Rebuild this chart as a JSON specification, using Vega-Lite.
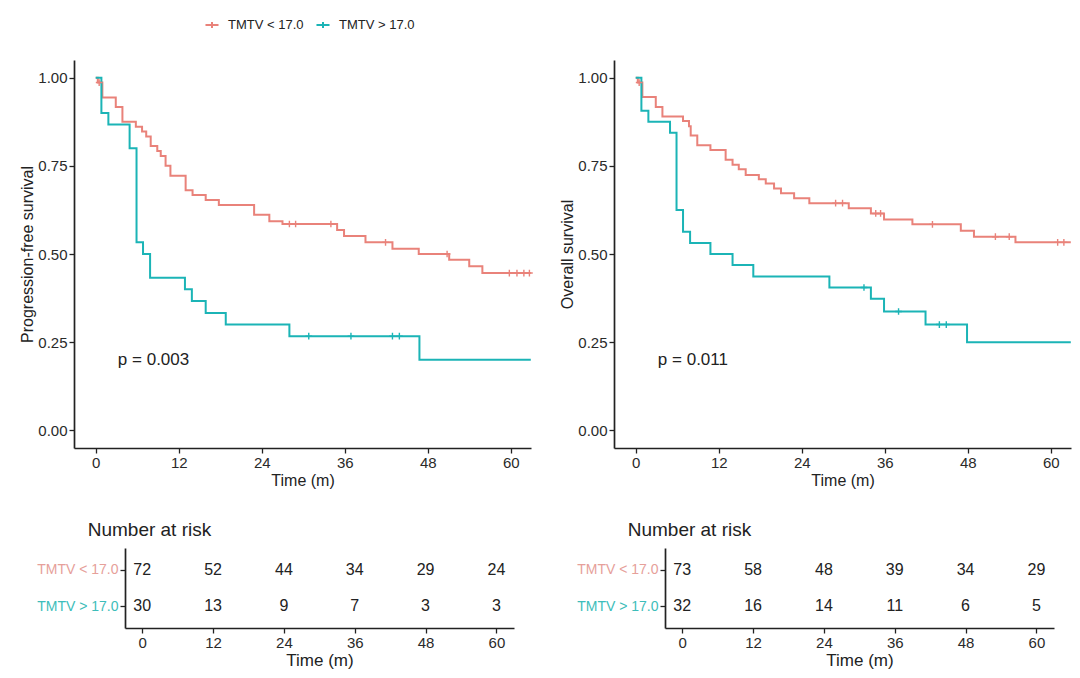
{
  "$schema": "https://vega.github.io/schema/vega-lite/v6.json",
  "background": "white",
  "padding": {"left": 19, "top": 17, "right": 8, "bottom": 8},
  "datasets": {
    "pfs": [
      {"group": "TMTV < 17.0", "time": 0, "surv": 1.0},
      {"group": "TMTV < 17.0", "time": 0.3, "surv": 0.986},
      {"group": "TMTV < 17.0", "time": 0.96, "surv": 0.944},
      {"group": "TMTV < 17.0", "time": 2.9, "surv": 0.917},
      {"group": "TMTV < 17.0", "time": 3.86, "surv": 0.875},
      {"group": "TMTV < 17.0", "time": 5.8, "surv": 0.861},
      {"group": "TMTV < 17.0", "time": 6.7, "surv": 0.847},
      {"group": "TMTV < 17.0", "time": 7.3, "surv": 0.833},
      {"group": "TMTV < 17.0", "time": 7.95, "surv": 0.806},
      {"group": "TMTV < 17.0", "time": 8.9, "surv": 0.792},
      {"group": "TMTV < 17.0", "time": 9.4, "surv": 0.778},
      {"group": "TMTV < 17.0", "time": 10.1, "surv": 0.75},
      {"group": "TMTV < 17.0", "time": 10.8, "surv": 0.722},
      {"group": "TMTV < 17.0", "time": 13.0, "surv": 0.681},
      {"group": "TMTV < 17.0", "time": 14.0, "surv": 0.667},
      {"group": "TMTV < 17.0", "time": 15.9, "surv": 0.653},
      {"group": "TMTV < 17.0", "time": 17.8, "surv": 0.639},
      {"group": "TMTV < 17.0", "time": 22.9, "surv": 0.611},
      {"group": "TMTV < 17.0", "time": 25.1, "surv": 0.593},
      {"group": "TMTV < 17.0", "time": 27.0, "surv": 0.585},
      {"group": "TMTV < 17.0", "time": 34.9, "surv": 0.568},
      {"group": "TMTV < 17.0", "time": 35.9, "surv": 0.551},
      {"group": "TMTV < 17.0", "time": 39.0, "surv": 0.533},
      {"group": "TMTV < 17.0", "time": 42.9, "surv": 0.515},
      {"group": "TMTV < 17.0", "time": 46.7, "surv": 0.5},
      {"group": "TMTV < 17.0", "time": 51.1, "surv": 0.484},
      {"group": "TMTV < 17.0", "time": 54.0, "surv": 0.465},
      {"group": "TMTV < 17.0", "time": 55.9, "surv": 0.446},
      {"group": "TMTV < 17.0", "time": 62.9, "surv": 0.446},
      {"group": "TMTV > 17.0", "time": 0, "surv": 1.0},
      {"group": "TMTV > 17.0", "time": 0.82, "surv": 0.9},
      {"group": "TMTV > 17.0", "time": 1.83, "surv": 0.867},
      {"group": "TMTV > 17.0", "time": 4.9, "surv": 0.8},
      {"group": "TMTV > 17.0", "time": 5.9, "surv": 0.533},
      {"group": "TMTV > 17.0", "time": 6.84, "surv": 0.5},
      {"group": "TMTV > 17.0", "time": 7.86, "surv": 0.433},
      {"group": "TMTV > 17.0", "time": 12.9, "surv": 0.4},
      {"group": "TMTV > 17.0", "time": 13.9, "surv": 0.367},
      {"group": "TMTV > 17.0", "time": 15.9, "surv": 0.333},
      {"group": "TMTV > 17.0", "time": 18.8, "surv": 0.3},
      {"group": "TMTV > 17.0", "time": 28.0, "surv": 0.267},
      {"group": "TMTV > 17.0", "time": 46.8, "surv": 0.2},
      {"group": "TMTV > 17.0", "time": 62.9, "surv": 0.2}
    ],
    "pfs_cens": [
      {"group": "TMTV < 17.0", "time": 0.5, "surv": 0.986},
      {"group": "TMTV < 17.0", "time": 28.0, "surv": 0.585},
      {"group": "TMTV < 17.0", "time": 28.9, "surv": 0.585},
      {"group": "TMTV < 17.0", "time": 34.0, "surv": 0.585},
      {"group": "TMTV < 17.0", "time": 41.9, "surv": 0.533},
      {"group": "TMTV < 17.0", "time": 50.8, "surv": 0.5},
      {"group": "TMTV < 17.0", "time": 59.8, "surv": 0.446},
      {"group": "TMTV < 17.0", "time": 60.9, "surv": 0.446},
      {"group": "TMTV < 17.0", "time": 61.9, "surv": 0.446},
      {"group": "TMTV < 17.0", "time": 62.7, "surv": 0.446},
      {"group": "TMTV > 17.0", "time": 30.8, "surv": 0.267},
      {"group": "TMTV > 17.0", "time": 36.9, "surv": 0.267},
      {"group": "TMTV > 17.0", "time": 42.9, "surv": 0.267},
      {"group": "TMTV > 17.0", "time": 43.9, "surv": 0.267}
    ],
    "os": [
      {"group": "TMTV < 17.0", "time": 0, "surv": 1.0},
      {"group": "TMTV < 17.0", "time": 0.3, "surv": 0.986},
      {"group": "TMTV < 17.0", "time": 0.96, "surv": 0.945},
      {"group": "TMTV < 17.0", "time": 2.9, "surv": 0.917},
      {"group": "TMTV < 17.0", "time": 3.86, "surv": 0.89},
      {"group": "TMTV < 17.0", "time": 6.84, "surv": 0.877},
      {"group": "TMTV < 17.0", "time": 7.7, "surv": 0.862},
      {"group": "TMTV < 17.0", "time": 7.95, "surv": 0.836},
      {"group": "TMTV < 17.0", "time": 8.9, "surv": 0.808},
      {"group": "TMTV < 17.0", "time": 10.8, "surv": 0.795},
      {"group": "TMTV < 17.0", "time": 13.0, "surv": 0.767},
      {"group": "TMTV < 17.0", "time": 14.0, "surv": 0.753},
      {"group": "TMTV < 17.0", "time": 14.9, "surv": 0.74},
      {"group": "TMTV < 17.0", "time": 15.9, "surv": 0.724},
      {"group": "TMTV < 17.0", "time": 17.8, "surv": 0.712},
      {"group": "TMTV < 17.0", "time": 18.8, "surv": 0.7},
      {"group": "TMTV < 17.0", "time": 20.0, "surv": 0.686},
      {"group": "TMTV < 17.0", "time": 21.0, "surv": 0.672},
      {"group": "TMTV < 17.0", "time": 22.9, "surv": 0.658},
      {"group": "TMTV < 17.0", "time": 25.1, "surv": 0.644},
      {"group": "TMTV < 17.0", "time": 30.8, "surv": 0.63},
      {"group": "TMTV < 17.0", "time": 34.0, "surv": 0.615},
      {"group": "TMTV < 17.0", "time": 35.9, "surv": 0.598},
      {"group": "TMTV < 17.0", "time": 40.0, "surv": 0.584},
      {"group": "TMTV < 17.0", "time": 47.0, "surv": 0.566},
      {"group": "TMTV < 17.0", "time": 48.9, "surv": 0.549},
      {"group": "TMTV < 17.0", "time": 54.9, "surv": 0.533},
      {"group": "TMTV < 17.0", "time": 62.9, "surv": 0.533},
      {"group": "TMTV > 17.0", "time": 0, "surv": 1.0},
      {"group": "TMTV > 17.0", "time": 0.82, "surv": 0.906},
      {"group": "TMTV > 17.0", "time": 1.83, "surv": 0.875},
      {"group": "TMTV > 17.0", "time": 4.96, "surv": 0.844},
      {"group": "TMTV > 17.0", "time": 5.9, "surv": 0.625},
      {"group": "TMTV > 17.0", "time": 6.84, "surv": 0.563},
      {"group": "TMTV > 17.0", "time": 7.86, "surv": 0.531},
      {"group": "TMTV > 17.0", "time": 10.8, "surv": 0.5},
      {"group": "TMTV > 17.0", "time": 14.0, "surv": 0.469},
      {"group": "TMTV > 17.0", "time": 17.0, "surv": 0.436},
      {"group": "TMTV > 17.0", "time": 28.0, "surv": 0.405},
      {"group": "TMTV > 17.0", "time": 34.0, "surv": 0.373},
      {"group": "TMTV > 17.0", "time": 35.9, "surv": 0.337},
      {"group": "TMTV > 17.0", "time": 41.9, "surv": 0.3},
      {"group": "TMTV > 17.0", "time": 47.9, "surv": 0.25},
      {"group": "TMTV > 17.0", "time": 62.9, "surv": 0.25}
    ],
    "os_cens": [
      {"group": "TMTV < 17.0", "time": 0.5, "surv": 0.986},
      {"group": "TMTV < 17.0", "time": 28.9, "surv": 0.644},
      {"group": "TMTV < 17.0", "time": 29.9, "surv": 0.644},
      {"group": "TMTV < 17.0", "time": 34.7, "surv": 0.615},
      {"group": "TMTV < 17.0", "time": 35.4, "surv": 0.615},
      {"group": "TMTV < 17.0", "time": 42.9, "surv": 0.584},
      {"group": "TMTV < 17.0", "time": 52.0, "surv": 0.549},
      {"group": "TMTV < 17.0", "time": 54.0, "surv": 0.549},
      {"group": "TMTV < 17.0", "time": 61.0, "surv": 0.533},
      {"group": "TMTV < 17.0", "time": 61.9, "surv": 0.533},
      {"group": "TMTV > 17.0", "time": 33.0, "surv": 0.405},
      {"group": "TMTV > 17.0", "time": 38.0, "surv": 0.337},
      {"group": "TMTV > 17.0", "time": 43.9, "surv": 0.3},
      {"group": "TMTV > 17.0", "time": 44.9, "surv": 0.3}
    ],
    "risk_pfs": [
      {"group": "TMTV < 17.0", "time": 0, "n": 72},
      {"group": "TMTV < 17.0", "time": 12, "n": 52},
      {"group": "TMTV < 17.0", "time": 24, "n": 44},
      {"group": "TMTV < 17.0", "time": 36, "n": 34},
      {"group": "TMTV < 17.0", "time": 48, "n": 29},
      {"group": "TMTV < 17.0", "time": 60, "n": 24},
      {"group": "TMTV > 17.0", "time": 0, "n": 30},
      {"group": "TMTV > 17.0", "time": 12, "n": 13},
      {"group": "TMTV > 17.0", "time": 24, "n": 9},
      {"group": "TMTV > 17.0", "time": 36, "n": 7},
      {"group": "TMTV > 17.0", "time": 48, "n": 3},
      {"group": "TMTV > 17.0", "time": 60, "n": 3}
    ],
    "risk_os": [
      {"group": "TMTV < 17.0", "time": 0, "n": 73},
      {"group": "TMTV < 17.0", "time": 12, "n": 58},
      {"group": "TMTV < 17.0", "time": 24, "n": 48},
      {"group": "TMTV < 17.0", "time": 36, "n": 39},
      {"group": "TMTV < 17.0", "time": 48, "n": 34},
      {"group": "TMTV < 17.0", "time": 60, "n": 29},
      {"group": "TMTV > 17.0", "time": 0, "n": 32},
      {"group": "TMTV > 17.0", "time": 12, "n": 16},
      {"group": "TMTV > 17.0", "time": 24, "n": 14},
      {"group": "TMTV > 17.0", "time": 36, "n": 11},
      {"group": "TMTV > 17.0", "time": 48, "n": 6},
      {"group": "TMTV > 17.0", "time": 60, "n": 5}
    ]
  },
  "concat": [
    {
      "width": 457, "height": 388,
      "layer": [
        {
          "data": {"name": "pfs"},
          "mark": {"type": "line", "interpolate": "step-after", "strokeWidth": 2},
          "encoding": {
            "x": {"field": "time", "type": "quantitative", "scale": {"domain": [-3.14, 62.93], "nice": false, "zero": false}, "axis": {"values": [0, 12, 24, 36, 48, 60], "title": "Time (m)"}},
            "y": {"field": "surv", "type": "quantitative", "scale": {"domain": [-0.05, 1.05], "nice": false, "zero": false}, "axis": {"values": [0, 0.25, 0.5, 0.75, 1], "format": ".2f", "title": "Progression-free survival"}},
            "color": {"field": "group", "type": "nominal", "scale": {"domain": ["TMTV < 17.0", "TMTV > 17.0"], "range": ["#E9827A", "#1BB4B6"]}, "legend": {"orient": "none", "legendX": 130, "legendY": -43}}
          }
        },
        {
          "data": {"name": "pfs_cens"},
          "mark": {"type": "point", "shape": "M-1,0L1,0M0,-1L0,1", "filled": false, "size": 45, "strokeWidth": 1.4, "opacity": 1},
          "encoding": {
            "x": {"field": "time", "type": "quantitative"},
            "y": {"field": "surv", "type": "quantitative"},
            "color": {"field": "group", "type": "nominal"}
          }
        },
        {
          "data": {"values": [{"label": "p = 0.003", "time": 3.2, "surv": 0.2}]},
          "mark": {"type": "text", "align": "left", "baseline": "middle", "fontSize": 17, "color": "#222"},
          "encoding": {
            "x": {"field": "time", "type": "quantitative"},
            "y": {"field": "surv", "type": "quantitative"},
            "text": {"field": "label"}
          }
        }
      ]
    },
    {
      "width": 457, "height": 388,
      "layer": [
        {
          "data": {"name": "os"},
          "mark": {"type": "line", "interpolate": "step-after", "strokeWidth": 2},
          "encoding": {
            "x": {"field": "time", "type": "quantitative", "scale": {"domain": [-3.14, 62.93], "nice": false, "zero": false}, "axis": {"values": [0, 12, 24, 36, 48, 60], "title": "Time (m)"}},
            "y": {"field": "surv", "type": "quantitative", "scale": {"domain": [-0.05, 1.05], "nice": false, "zero": false}, "axis": {"values": [0, 0.25, 0.5, 0.75, 1], "format": ".2f", "title": "Overall survival"}},
            "color": {"field": "group", "type": "nominal", "scale": {"domain": ["TMTV < 17.0", "TMTV > 17.0"], "range": ["#E9827A", "#1BB4B6"]}, "legend": {"orient": "none", "legendX": 130, "legendY": -43}}
          }
        },
        {
          "data": {"name": "os_cens"},
          "mark": {"type": "point", "shape": "M-1,0L1,0M0,-1L0,1", "filled": false, "size": 45, "strokeWidth": 1.4, "opacity": 1},
          "encoding": {
            "x": {"field": "time", "type": "quantitative"},
            "y": {"field": "surv", "type": "quantitative"},
            "color": {"field": "group", "type": "nominal"}
          }
        },
        {
          "data": {"values": [{"label": "p = 0.011", "time": 3.2, "surv": 0.2}]},
          "mark": {"type": "text", "align": "left", "baseline": "middle", "fontSize": 17, "color": "#222"},
          "encoding": {
            "x": {"field": "time", "type": "quantitative"},
            "y": {"field": "surv", "type": "quantitative"},
            "text": {"field": "label"}
          }
        }
      ]
    },
    {
      "width": 457, "height": 80,
      "title": {"text": "Number at risk", "anchor": "start", "dx": 51, "fontSize": 19, "fontWeight": "normal", "offset": 8, "color": "#222"},
      "data": {"name": "risk_pfs"},
      "mark": {"type": "text", "fontSize": 16, "color": "#222"},
      "encoding": {
        "x": {"field": "time", "type": "quantitative", "scale": {"domain": [-2.92, 62.98], "range": [51, 440], "nice": false, "zero": false}, "axis": {"values": [0, 12, 24, 36, 48, 60], "title": "Time (m)", "titleFontSize": 17}},
        "y": {"field": "group", "type": "nominal", "scale": {"type": "point", "domain": ["TMTV < 17.0", "TMTV > 17.0"], "padding": 0.6}, "axis": {"title": null, "offset": -51, "labelFontSize": 14, "labelColor": {"condition": {"test": "datum.value === 'TMTV < 17.0'", "value": "#E6A09A"}, "value": "#3DBDBA"}}},
        "text": {"field": "n", "type": "quantitative"}
      }
    },
    {
      "width": 457, "height": 80,
      "title": {"text": "Number at risk", "anchor": "start", "dx": 51, "fontSize": 19, "fontWeight": "normal", "offset": 8, "color": "#222"},
      "data": {"name": "risk_os"},
      "mark": {"type": "text", "fontSize": 16, "color": "#222"},
      "encoding": {
        "x": {"field": "time", "type": "quantitative", "scale": {"domain": [-2.92, 62.98], "range": [51, 440], "nice": false, "zero": false}, "axis": {"values": [0, 12, 24, 36, 48, 60], "title": "Time (m)", "titleFontSize": 17}},
        "y": {"field": "group", "type": "nominal", "scale": {"type": "point", "domain": ["TMTV < 17.0", "TMTV > 17.0"], "padding": 0.6}, "axis": {"title": null, "offset": -51, "labelFontSize": 14, "labelColor": {"condition": {"test": "datum.value === 'TMTV < 17.0'", "value": "#E6A09A"}, "value": "#3DBDBA"}}},
        "text": {"field": "n", "type": "quantitative"}
      }
    }
  ],
  "columns": 2,
  "align": "each",
  "bounds": "flush",
  "spacing": {"row": 100, "column": 83},
  "config": {
    "font": "Liberation Sans",
    "view": {"stroke": null},
    "axis": {
      "grid": false,
      "domainColor": "#222",
      "domainWidth": 1.7,
      "tickColor": "#222",
      "tickWidth": 1.3,
      "tickSize": 5,
      "labelFont": "Liberation Sans",
      "labelFontSize": 15,
      "labelColor": "#2a2a2a",
      "labelPadding": 2,
      "titleFont": "Liberation Sans",
      "titleFontSize": 16,
      "titleFontWeight": "normal",
      "titleColor": "#222",
      "titlePadding": 2
    },
    "legend": {
      "direction": "horizontal",
      "title": null,
      "symbolType": "M-1,0L1,0M0,-0.45L0,0.45",
      "symbolSize": 170,
      "symbolStrokeWidth": 2,
      "symbolFillColor": "transparent",
      "labelFont": "Liberation Sans",
      "labelFontSize": 13,
      "labelColor": "#222",
      "labelOffset": 8,
      "columnPadding": 8
    },
    "title": {"font": "Liberation Sans"}
  }
}
